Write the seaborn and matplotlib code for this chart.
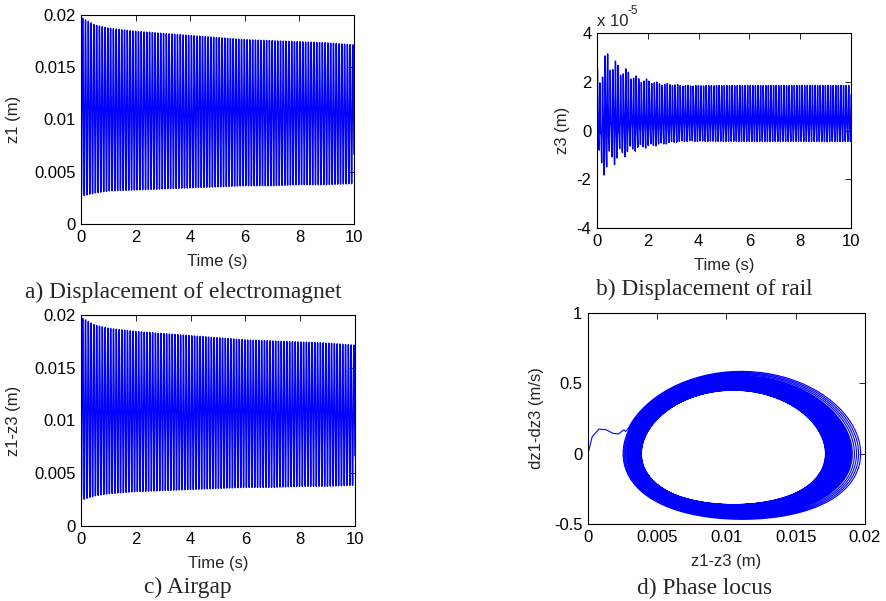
import numpy as np
import pandas as pd
import matplotlib
matplotlib.use('Agg')
import matplotlib.pyplot as plt
import seaborn as sns

# ---- values ----
env_t = [0.02, 0.5, 1, 2, 3, 4, 5, 6, 7, 8, 9, 10]
# a) z1 envelope (m)
z1_upper = [0.0197, 0.0190, 0.0187, 0.0184, 0.0182, 0.0180, 0.0178, 0.0176, 0.0175, 0.0174, 0.0173, 0.0171]
z1_lower = [0.0027, 0.0030, 0.0032, 0.0033, 0.0034, 0.0035, 0.0036, 0.0037, 0.0037, 0.0038, 0.0038, 0.0039]
# c) airgap envelope (m)
gap_upper = [0.0197, 0.0190, 0.0187, 0.0184, 0.0182, 0.0180, 0.0178, 0.0176, 0.0175, 0.0174, 0.0173, 0.0171]
gap_lower = [0.0025, 0.0029, 0.0031, 0.0033, 0.0034, 0.0035, 0.0036, 0.0037, 0.0037, 0.0038, 0.0038, 0.0039]
# b) z3 envelope (x 1e-5 m)
z3_t = [0, 0.1, 0.4, 0.8, 1.2, 1.6, 2.0, 2.5, 3.0, 3.5, 4.0, 10]
z3_upper = [4.0, 2.8, 3.3, 2.8, 2.5, 2.2, 2.1, 1.95, 1.9, 1.85, 1.85, 1.85]
z3_lower = [-1.0, -2.1, -1.7, -1.3, -1.0, -0.8, -0.7, -0.6, -0.5, -0.45, -0.45, -0.45]
# d) start of the phase locus before the orbit
start_gap = [0, 0.0003, 0.0008, 0.0013, 0.0018, 0.0022, 0.0026]
start_vel = [0, 0.12, 0.175, 0.17, 0.145, 0.14, 0.17]

osc_freq = 9.8      # Hz, ~98 cycles in 10 s
beat_freq = 2.5     # Hz, rail transient beats

time_ticks = [0, 2, 4, 6, 8, 10]
disp_ticks = [0, 0.005, 0.01, 0.015, 0.02]
disp_labels = ['0', '0.005', '0.01', '0.015', '0.02']
z3_ticks = [-4, -2, 0, 2, 4]
vel_ticks = [-0.5, 0, 0.5, 1]
vel_labels = ['-0.5', '0', '0.5', '1']

captions = ['a) Displacement of electromagnet', 'b) Displacement of rail',
            'c) Airgap', 'd) Phase locus']

# ---- build signals ----
t = np.linspace(0.02, 10, 9000)
theta = 2 * np.pi * osc_freq * (t - 0.02) + 0.35


def osc(upper, lower):
    hi = np.interp(t, env_t, upper)
    lo = np.interp(t, env_t, lower)
    c, a = (hi + lo) / 2, (hi - lo) / 2
    z = c + a * (-np.cos(theta) - 0.055 * np.sin(2 * theta))
    return np.r_[0, t], np.r_[0, z]


tz1, z1 = osc(z1_upper, z1_lower)
tg, gap = osc(gap_upper, gap_lower)

# rail
hi = np.interp(t, z3_t, z3_upper)
lo = np.interp(t, z3_t, z3_lower)
s = np.cos(theta) + 0.35 * np.cos(2 * theta + 1.0)
s = (s - (s.max() + s.min()) / 2) / ((s.max() - s.min()) / 2)
k = 0.3 * np.exp(-t / 1.2)
shape = (s + k * np.cos(2 * np.pi * (osc_freq + beat_freq) * t)) / (1 + k)
z3 = (hi + lo) / 2 + (hi - lo) / 2 * shape

# phase locus
vel = np.gradient(gap[1:], t)
px = np.r_[start_gap, gap[1:]]
py = np.r_[start_vel, vel]

# ---- figure ----
sns.set_style('white')
plt.rcParams['font.family'] = ['Liberation Sans', 'DejaVu Sans']
fig = plt.figure(figsize=(8.87, 6.01), dpi=100)

axes = [
    fig.add_axes([0.0913, 0.6273, 0.3078, 0.3478]),
    fig.add_axes([0.6731, 0.6206, 0.2864, 0.3245]),
    fig.add_axes([0.0913, 0.1248, 0.3089, 0.3511]),
    fig.add_axes([0.6629, 0.1281, 0.3123, 0.3511]),
]
blue = '#0000ff'
lw = 1.0
fs = 12

sns.lineplot(x=tz1, y=z1, ax=axes[0], color=blue, lw=lw, estimator=None, sort=False)
sns.lineplot(x=t, y=z3, ax=axes[1], color=blue, lw=lw, estimator=None, sort=False)
sns.lineplot(x=tg, y=gap, ax=axes[2], color=blue, lw=lw, estimator=None, sort=False)
sns.lineplot(x=px, y=py, ax=axes[3], color=blue, lw=0.8, estimator=None, sort=False)

for ax in axes[:3]:
    ax.set_xlim(0, 10)
    ax.set_xticks(time_ticks)
    ax.set_xticklabels([str(v) for v in time_ticks])
    ax.set_xlabel('Time (s)', fontsize=fs, labelpad=6.5)

for ax in (axes[0], axes[2]):
    ax.set_ylim(0, 0.02)
    ax.set_yticks(disp_ticks)
    ax.set_yticklabels(disp_labels)

axes[0].set_ylabel('z1 (m)', fontsize=fs, labelpad=9.5)
axes[2].set_ylabel('z1-z3 (m)', fontsize=fs, labelpad=9)

axes[1].set_ylim(-4, 4)
axes[1].set_yticks(z3_ticks)
axes[1].set_yticklabels([str(v) for v in z3_ticks])
axes[1].set_ylabel('z3 (m)', fontsize=fs, labelpad=5)
axes[1].text(0.0, 1.06, 'x 10', transform=axes[1].transAxes, fontsize=fs, va='center')
axes[1].text(0.12, 1.115, '-5', transform=axes[1].transAxes, fontsize=8.5, va='center')

axes[3].set_xlim(0, 0.02)
axes[3].set_xticks(disp_ticks)
axes[3].set_xticklabels(disp_labels)
axes[3].set_ylim(-0.5, 1)
axes[3].set_yticks(vel_ticks)
axes[3].set_yticklabels(vel_labels)
axes[3].set_xlabel('z1-z3 (m)', fontsize=fs, labelpad=6.5)
axes[3].set_ylabel('dz1-dz3 (m/s)', fontsize=fs, labelpad=7)

for ax in axes:
    ax.tick_params(direction='in', length=4, width=0.6, top=True, right=True,
                   labelsize=fs, pad=4, colors='black')
    for sp in ax.spines.values():
        sp.set_color('black')
        sp.set_linewidth(0.8)

cap_pos = [(183, 292), (704, 289), (188, 587), (705, 588)]
for txt, (cx, cy) in zip(captions, cap_pos):
    fig.text(cx / 887, 1 - cy / 601, txt, ha='center', va='center',
             fontsize=16.8, family='Liberation Serif')

fig.savefig('out.png', dpi=100)
